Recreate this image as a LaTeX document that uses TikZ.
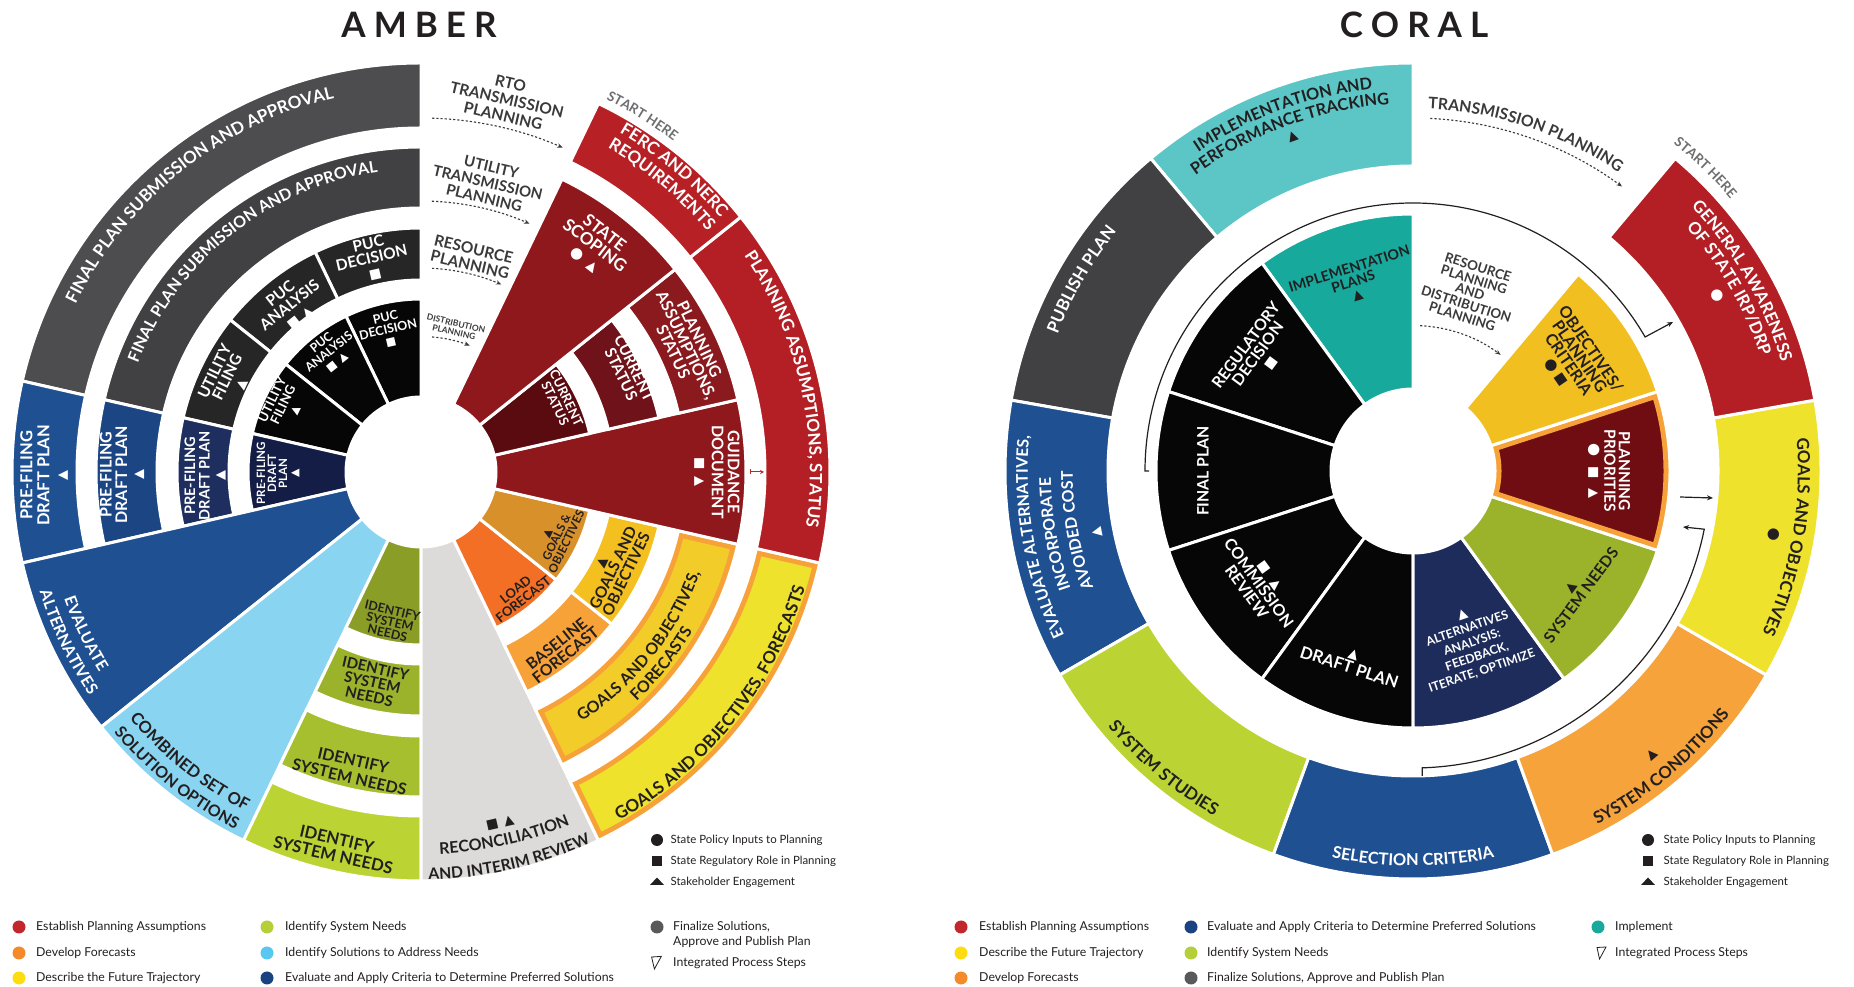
\documentclass[tikz,border=0pt]{standalone}
\usepackage{fontspec}
\setmainfont{Lato}
\newfontfamily\lab{Lato}
\newfontfamily\sym{DejaVu Sans}
\usetikzlibrary{decorations.text,arrows.meta}

\definecolor{ink}{HTML}{231F20}
\definecolor{ink2}{HTML}{3B393A}
\definecolor{hint}{HTML}{6D6E70}
\definecolor{gA}{HTML}{4D4D4F}
\definecolor{gB}{HTML}{414143}
\definecolor{gC}{HTML}{262626}
\definecolor{kD}{HTML}{060606}
\definecolor{pfA}{HTML}{1F5091}
\definecolor{pfB}{HTML}{1C4584}
\definecolor{pfC}{HTML}{1E2F5F}
\definecolor{pfD}{HTML}{141D45}
\definecolor{evB}{HTML}{1F5091}
\definecolor{skyB}{HTML}{89D4F1}
\definecolor{idA}{HTML}{BCD433}
\definecolor{idB}{HTML}{A6BF2F}
\definecolor{idC}{HTML}{9BB32A}
\definecolor{idD}{HTML}{8A9E27}
\definecolor{recG}{HTML}{DCDBD9}
\definecolor{loadO}{HTML}{F26F25}
\definecolor{baseO}{HTML}{F7A239}
\definecolor{ochre}{HTML}{D8902B}
\definecolor{gold}{HTML}{F3C01F}
\definecolor{yelB}{HTML}{F2CD2A}
\definecolor{yelA}{HTML}{EEE22D}
\definecolor{bordO}{HTML}{F7A239}
\definecolor{redG}{HTML}{8F181D}
\definecolor{redA}{HTML}{B31F24}
\definecolor{redB}{HTML}{8B1A1F}
\definecolor{redC}{HTML}{70121A}
\definecolor{redD}{HTML}{5A0B10}
\definecolor{ferc}{HTML}{B72025}
\definecolor{tealL}{HTML}{5CC6C6}
\definecolor{tealD}{HTML}{16A99C}
\definecolor{condO}{HTML}{F7A33C}
\definecolor{navy}{HTML}{1D2C5A}
\definecolor{prio}{HTML}{6F0D12}
\definecolor{objG}{HTML}{F2BF20}
\definecolor{lgRed}{HTML}{C1272D}
\definecolor{lgOr}{HTML}{F58A2A}
\definecolor{lgYel}{HTML}{FEDD10}
\definecolor{lgGrn}{HTML}{B5CF38}
\definecolor{lgSky}{HTML}{58C8F0}
\definecolor{lgNavy}{HTML}{1C4381}
\definecolor{lgGray}{HTML}{58595B}
\definecolor{lgTeal}{HTML}{17A99B}

\newcommand\fsz[2]{\fontsize{#1}{#2}\selectfont}
\newcommand\labf{\lab\bfseries}
\newcommand\symC[1][15]{{\sym\fontsize{#1}{#1}\selectfont ●}}
\newcommand\symS[1][13]{{\sym\fontsize{#1}{#1}\selectfont ■}}
\newcommand\symT[1][13]{{\sym\fontsize{#1}{#1}\selectfont ▲}}

% ring sector: start angle, end angle, inner radius, outer radius, fill
\newcommand\sect[5]{\filldraw[seg,fill=#5] (#1:#3) arc[start angle=#1,end angle=#2,radius=#3] -- (#2:#4) arc[start angle=#2,end angle=#1,radius=#4] -- cycle;}
% ring sector with an inner coloured border
\newcommand\bsect[6]{%
  \fill[#5] (#1:#3) arc[start angle=#1,end angle=#2,radius=#3] -- (#2:#4) arc[start angle=#2,end angle=#1,radius=#4] -- cycle;
  \begin{scope}
    \clip (#1:#3) arc[start angle=#1,end angle=#2,radius=#3] -- (#2:#4) arc[start angle=#2,end angle=#1,radius=#4] -- cycle;
    \draw[#6,line width=13pt] (#1:#3) arc[start angle=#1,end angle=#2,radius=#3] -- (#2:#4) arc[start angle=#2,end angle=#1,radius=#4] -- cycle;
  \end{scope}
  \draw[seg] (#1:#3) arc[start angle=#1,end angle=#2,radius=#3] -- (#2:#4) arc[start angle=#2,end angle=#1,radius=#4] -- cycle;}
% curved label, letters standing outward (clockwise run)
\newcommand\cwtext[7][center]{%
  \pgfmathsetmacro\arcrad{#4-0.36*#5}%
  \path[decorate,decoration={text along path,text align=#1,text color=#6,text={|\labf\fsz{#5}{#5}|#7}}] (#2:\arcrad) arc[start angle=#2,end angle=#3,radius=\arcrad];}
% curved label, letters standing inward (counter-clockwise run)
\newcommand\ccwtext[7][center]{%
  \pgfmathsetmacro\arcrad{#4+0.36*#5}%
  \path[decorate,decoration={text along path,text align=#1,text color=#6,text={|\labf\fsz{#5}{#5}|#7}}] (#2:\arcrad) arc[start angle=#2,end angle=#3,radius=\arcrad];}

\begin{document}
\begin{tikzpicture}[x=1pt,y=1pt,
  seg/.style={draw=white,line width=3pt},
  wl/.style={align=center,inner sep=0pt,text=white},
  dl/.style={align=center,inner sep=0pt,text=ink},
  gl/.style={align=center,inner sep=0pt,text=ink2},
  darrow/.style={draw=ink2,line width=1.1pt,dash pattern=on 2.2pt off 2pt,-{Stealth[length=5.5pt,width=4.5pt]}},
  flowarr/.style={draw=ink,line width=1.2pt,-{Stealth[length=6pt,width=5pt]}},
  title/.style={inner sep=0pt,text=ink,font=\labf\fsz{35}{35}},
  key/.style={anchor=base west,inner sep=0pt,text=ink,font=\lab\fsz{12.3}{14}},
  skey/.style={anchor=base west,inner sep=0pt,text=ink,font=\lab\fsz{11.4}{13}},
  dot/.style={circle,inner sep=0pt,minimum size=13pt},
]
\useasboundingbox (0,0) rectangle (1854,987);
\fill[white] (0,0) rectangle (1854,987);

%================ AMBER =================
\node[title] (tAmber) at (419,962.5) {A\kern8pt M\kern8pt B\kern8pt E\kern8pt R};
\begin{scope}[shift={(421,515)}]
% final plan / PUC / utility filing
\sect{90}{167.143}{344}{409}{gA}
\sect{90}{167.143}{264}{325}{gB}
\sect{90}{115.714}{192}{244}{gC}
\sect{115.714}{141.429}{192}{244}{gC}
\sect{141.429}{167.143}{192}{244}{gC}
\sect{90}{115.714}{75}{173}{kD}
\sect{115.714}{141.429}{75}{173}{kD}
\sect{141.429}{167.143}{75}{173}{kD}
% pre-filing draft plan
\sect{167.143}{192.857}{344}{409}{pfA}
\sect{167.143}{192.857}{264}{325}{pfB}
\sect{167.143}{192.857}{192}{244}{pfC}
\sect{167.143}{192.857}{75}{173}{pfD}
% full-depth wedges
\sect{192.857}{218.571}{75}{409}{evB}
\sect{218.571}{244.286}{75}{409}{skyB}
% identify system needs
\sect{244.286}{270}{344}{409}{idA}
\sect{244.286}{270}{264}{325}{idB}
\sect{244.286}{270}{192}{244}{idC}
\sect{244.286}{270}{75}{173}{idD}
\sect{270}{295.714}{75}{409}{recG}
% forecasts and goals
\sect{295.714}{321.429}{75}{173}{loadO}
\sect{321.429}{347.143}{75}{173}{ochre}
\sect{295.714}{321.429}{192}{244}{baseO}
\sect{321.429}{347.143}{192}{244}{gold}
\bsect{295.714}{347.143}{264}{325}{yelB}{bordO}
\bsect{295.714}{347.143}{344}{409}{yelA}{bordO}
% planning assumptions
\sect{347.143}{372.857}{75}{325}{redG}
\sect{347.143}{398.571}{344}{409}{redA}
\sect{372.857}{398.571}{264}{325}{redB}
\sect{372.857}{398.571}{192}{244}{redC}
\sect{372.857}{398.571}{75}{173}{redD}
\sect{398.571}{424.286}{75}{325}{redG}
\sect{398.571}{424.286}{344}{409}{ferc}

% labels, upper left
\cwtext{167.143}{90}{390}{17}{white}{FINAL PLAN SUBMISSION AND APPROVAL}
\cwtext{167.143}{90}{309}{16}{white}{FINAL PLAN SUBMISSION AND APPROVAL}
\node[wl,rotate=12.86,font=\labf\fsz{15.5}{15}] (aDec3) at (103:219) {PUC\\DECISION\\\symS};
\node[wl,rotate=38.57,font=\labf\fsz{15.5}{15}] (aAna3) at (128.2:212) {PUC\\ANALYSIS\\\symS\hspace{6pt}\symT};
\node[wl,rotate=64.29,font=\labf\fsz{15.5}{14}] (aUtl3) at (154:215) {UTILITY\\FILING\\\symT};
\node[wl,rotate=12.86,font=\labf\fsz{12.5}{12}] (aDec4) at (103:146) {PUC\\DECISION\\\symS[11]};
\node[wl,rotate=38.57,font=\labf\fsz{12.3}{12}] (aAna4) at (127.5:151) {PUC\\ANALYSIS\\\symS[11]\hspace{5pt}\symT[11]};
\node[wl,rotate=64.29,font=\labf\fsz{13}{12}] (aUtl4) at (154:153) {UTILITY\\FILING\\\symT[11]};
\node[wl,rotate=90,font=\labf\fsz{16.5}{17}] (aPre1) at (180.5:377) {PRE-FILING\\DRAFT PLAN\\\symT};
\node[wl,rotate=90,font=\labf\fsz{16}{15.5}] (aPre2) at (180.5:299) {PRE-FILING\\DRAFT PLAN\\\symT};
\node[wl,rotate=90,font=\labf\fsz{14.5}{14.5}] (aPre3) at (181:216) {PRE-FILING\\DRAFT PLAN\\\symT};
\node[wl,rotate=90,font=\labf\fsz{11.5}{11}] (aPre4) at (180.5:143) {PRE-FILING\\DRAFT\\PLAN\\\symT[11]};

% labels, right
\cwtext[left]{63.6}{30}{421}{13.5}{hint}{START HERE}
\cwtext{62.9}{37.1}{399}{17}{white}{FERC AND NERC}
\cwtext{62.9}{37.1}{380}{17}{white}{REQUIREMENTS}
\cwtext{38.571}{-12.857}{395}{17}{white}{PLANNING ASSUMPTIONS, STATUS}
\node[wl,rotate=-37.5,font=\labf\fsz{17}{16}] (aScope) at (52.5:285) {STATE\\SCOPING\\\symC\hspace{8pt}\symT};
\node[wl,rotate=-64.29,font=\labf\fsz{16}{14.5}] (aPA2) at (25.5:294) {PLANNING\\ASSUMPTIONS,\\STATUS};
\node[wl,rotate=-64.29,font=\labf\fsz{15.5}{14.5}] (aCS3) at (26:230) {CURRENT\\STATUS};
\node[wl,rotate=-64.29,font=\labf\fsz{13}{12.5}] (aCS4) at (27:157) {CURRENT\\STATUS};
\node[wl,rotate=-90,font=\labf\fsz{16}{16}] (aGuide) at (0:296) {GUIDANCE\\DOCUMENT\\\symS\hspace{7pt}\symT};
\coordinate (aRedS) at (329,0);
\coordinate (aRedE) at (343,0);
\draw[lgRed,line width=1pt,{Bar[width=5pt]}-{Stealth[length=4pt,width=4pt]}] (aRedS) -- (aRedE);

% labels, lower right
\node[dl,rotate=64.29,font=\labf\fsz{11.7}{11}] (aGO4) at (334.3:151) {\symT[11]\\GOALS \&\\OBJECTIVES};
\node[dl,rotate=38.57,font=\labf\fsz{13}{12.5}] (aLoad) at (308.8:157) {LOAD\\FORECAST};
\node[dl,rotate=38.57,font=\labf\fsz{15.7}{14.5}] (aBase) at (308.3:226) {BASELINE\\FORECAST};
\node[dl,rotate=64.29,font=\labf\fsz{15.5}{14.5}] (aGO3) at (333.5:216) {\symT\\GOALS AND\\OBJECTIVES};
\ccwtext{295.714}{347.143}{291}{16}{ink}{GOALS AND OBJECTIVES,}
\ccwtext{295.714}{347.143}{309}{16}{ink}{FORECASTS}
\ccwtext{295.714}{347.143}{395}{17}{ink}{GOALS AND OBJECTIVES, FORECASTS}
\ccwtext{270}{295.714}{377}{16}{ink}{RECONCILIATION}
\ccwtext{270}{295.714}{402}{15.7}{ink}{AND INTERIM REVIEW}
\node[dl,rotate=12.86,font=\labf\fsz{13}{13}] (aRecS) at (282.7:360) {\symS\hspace{6pt}\symT};

% labels, lower left
\node[dl,rotate=-12.86,font=\labf\fsz{12.5}{11.5}] (aId4) at (258.3:153) {IDENTIFY\\SYSTEM\\NEEDS};
\node[dl,rotate=-12.86,font=\labf\fsz{15}{14.5}] (aId3) at (257:216) {IDENTIFY\\SYSTEM\\NEEDS};
\node[dl,rotate=-12.86,font=\labf\fsz{16}{17}] (aId2) at (256.8:305) {IDENTIFY\\SYSTEM NEEDS};
\node[dl,rotate=-12.86,font=\labf\fsz{16.7}{16.3}] (aId1) at (257.1:385) {IDENTIFY\\SYSTEM NEEDS};
\ccwtext{218.571}{244.286}{376}{16.5}{ink}{COMBINED SET OF}
\ccwtext{218.571}{244.286}{397}{16}{ink}{SOLUTION OPTIONS}
\ccwtext{192.857}{218.571}{373}{16}{white}{EVALUATE}
\ccwtext{192.857}{218.571}{394}{16}{white}{ALTERNATIVES}

% planning tracks in the open gap
\node[gl,rotate=-13,font=\labf\fsz{15.5}{16.5}] (aRTO) at (77:382) {RTO\\TRANSMISSION\\PLANNING};
\node[gl,rotate=-13,font=\labf\fsz{15}{16}] (aUTP) at (77:297) {UTILITY\\TRANSMISSION\\PLANNING};
\node[gl,rotate=-13.3,font=\labf\fsz{15.5}{16}] (aRSP) at (76.7:221) {RESOURCE\\PLANNING};
\node[gl,rotate=-13.3,font=\labf\fsz{8.5}{9}] (aDSP) at (76.7:148) {DISTRIBUTION\\PLANNING};
\coordinate (aRTOa) at (88.2:354);
\coordinate (aUTPa) at (87.7:271);
\coordinate (aRSPa) at (86.9:204);
\coordinate (aDSPa) at (85.3:135.5);
\draw[darrow] (aRTOa) arc[start angle=88.2,end angle=66.4,radius=354];
\draw[darrow] (aUTPa) arc[start angle=87.7,end angle=66.4,radius=271];
\draw[darrow] (aRSPa) arc[start angle=86.9,end angle=66.8,radius=204];
\draw[darrow] (aDSPa) arc[start angle=85.3,end angle=68.9,radius=135.5];
\end{scope}

%================ CORAL =================
\node[title] (tCoral) at (1414,962.5) {C\kern8pt O\kern8pt R\kern8pt A\kern8pt L};
\begin{scope}[shift={(1413,516)}]
% outer ring
\sect{90}{130}{305}{408}{tealL}
\sect{130}{170}{305}{408}{gB}
\sect{170}{210}{305}{408}{evB}
\sect{210}{250}{305}{408}{idA}
\sect{250}{290}{305}{408}{evB}
\sect{290}{330}{305}{408}{condO}
\sect{330}{370}{305}{408}{yelA}
\sect{10}{50}{305}{408}{redA}
% inner wedges
\sect{90}{126}{82}{257}{tealD}
\sect{126}{162}{82}{257}{kD}
\sect{162}{198}{82}{257}{kD}
\sect{198}{234}{82}{257}{kD}
\sect{234}{270}{82}{257}{kD}
\sect{270}{306}{82}{257}{navy}
\sect{306}{342}{82}{257}{idC}
\bsect{342}{378}{82}{257}{prio}{bordO}
\sect{18}{50}{82}{257}{objG}

% process loop
\coordinate (lpA) at (180:268);
\path (lpA) ++(4,0) coordinate (lpAt);
\coordinate (lpB) at (260,149);
\draw[flowarr] (lpAt) -- (lpA) arc[start angle=180,end angle=30,radius=268] -- (lpB);
\coordinate (lqA) at (-88.2:297);
\path (lqA) ++(0,-8) coordinate (lqAt);
\coordinate (lqB) at (270,-56);
\draw[flowarr] (lqAt) -- (lqA) arc[start angle=-88.2,end angle=-11.3,radius=297] -- (lqB);
\coordinate (lrA) at (267,-26);
\coordinate (lrB) at (300,-27);
\draw[flowarr] (lrA) -- (lrB);

% outer ring labels
\cwtext{130}{90}{390}{16.3}{ink}{IMPLEMENTATION AND}
\cwtext{130}{90}{373}{16.3}{ink}{PERFORMANCE TRACKING}
\node[dl,rotate=19.8,font=\fsz{13}{13}] (cIPTs) at (109.8:355) {\symT};
\cwtext{170}{130}{387}{17}{white}{PUBLISH PLAN}
\cwtext{210}{170}{391}{16}{white}{EVALUATE ALTERNATIVES,}
\cwtext{210}{170}{368}{16}{white}{INCORPORATE}
\cwtext{210}{170}{346}{16}{white}{AVOIDED COST}
\node[wl,rotate=101,font=\fsz{13}{13}] (cEvS) at (191:322) {\symT};
\ccwtext{210}{250}{392}{17}{ink}{SYSTEM STUDIES}
\ccwtext{250}{290}{389}{16.4}{white}{SELECTION CRITERIA}
\ccwtext{290}{330}{393}{16.7}{ink}{SYSTEM CONDITIONS}
\node[dl,rotate=40,font=\fsz{13}{13}] (cSCs) at (310:371) {\symT};
\cwtext{10}{-30}{391}{16.8}{ink}{GOALS AND OBJECTIVES}
\node[dl,font=\fsz{15}{15}] (cGOs) at (-10:366) {\symC};
\cwtext{50}{10}{390}{16.8}{white}{GENERAL AWARENESS}
\cwtext{50}{10}{372}{16.8}{white}{OF STATE IRP/DRP}
\node[wl,font=\fsz{15}{15}] (cGAs) at (30:351) {\symC};
\cwtext[left]{51.5}{20}{423}{13.5}{hint}{START HERE}
\cwtext[left]{87.6}{45}{368}{15.8}{ink2}{TRANSMISSION PLANNING}

% inner wedge labels
\node[dl,rotate=17.5,font=\labf\fsz{14.2}{13.5}] (cIP) at (107.5:198) {IMPLEMENTATION\\PLANS\\\symT};
\node[wl,rotate=53.5,font=\labf\fsz{15.9}{14.5}] (cRD) at (143:194) {REGULATORY\\DECISION\\\symS};
\node[wl,rotate=90,font=\labf\fsz{15.8}{15}] (cFP) at (180:210) {FINAL PLAN};
\node[wl,rotate=-54,font=\labf\fsz{16}{15}] (cCR) at (216:192) {\symS\hspace{9pt}\symT\\COMMISSION\\REVIEW};
\node[wl,rotate=-18,font=\labf\fsz{16.7}{16}] (cDP) at (252:200) {\symT\\DRAFT PLAN};
\node[wl,rotate=19,font=\labf\fsz{12.2}{15}] (cAA) at (289:182) {\symT\\ALTERNATIVES\\ANALYSIS:\\FEEDBACK,\\ITERATE, OPTIMIZE};
\node[dl,rotate=53.5,font=\labf\fsz{15.6}{15}] (cSN) at (323.5:203) {\symT\\SYSTEM NEEDS};
\node[wl,rotate=-90,font=\labf\fsz{15.4}{14.5}] (cPP) at (0:196) {PLANNING\\PRIORITIES\\\symC\hspace{10pt}\symS\hspace{10pt}\symT};
\node[dl,rotate=-55.5,font=\labf\fsz{16}{13.5}] (cOC) at (34.5:195) {OBJECTIVES/\\PLANNING\\CRITERIA\\\symC\hspace{4pt}\symS};
\node[gl,rotate=-17.7,font=\labf\fsz{13.3}{13}] (cRDP) at (72.3:188) {RESOURCE\\PLANNING\\AND\\DISTRIBUTION\\PLANNING};
\coordinate (cTPa) at (87.2:353);
\coordinate (cRDPa) at (87.2:145.5);
\draw[darrow] (cTPa) arc[start angle=87.2,end angle=53.7,radius=353];
\draw[darrow] (cRDPa) arc[start angle=87.2,end angle=53,radius=145.5];
\end{scope}

%================ KEYS =================
% state role keys
\node[circle,fill=ink,inner sep=0pt,minimum size=12pt] (kAc) at (657,147) {};
\node[skey] (kAct) at (670.5,143) {State Policy Inputs to Planning};
\node[fill=ink,inner sep=0pt,minimum size=9.5pt] (kAs) at (657,126) {};
\node[skey] (kAst) at (670.5,122) {State Regulatory Role in Planning};
\fill[ink] (650,102) -- (664,102) -- (657,109.5) -- cycle;
\node[skey] (kAtt) at (670.5,101) {Stakeholder Engagement};

\node[circle,fill=ink,inner sep=0pt,minimum size=12pt] (kCc) at (1648,147) {};
\node[skey] (kCct) at (1663.5,143) {State Policy Inputs to Planning};
\node[fill=ink,inner sep=0pt,minimum size=9.5pt] (kCs) at (1648,126) {};
\node[skey] (kCst) at (1663.5,122) {State Regulatory Role in Planning};
\fill[ink] (1641,102) -- (1655,102) -- (1648,109.5) -- cycle;
\node[skey] (kCtt) at (1663.5,101) {Stakeholder Engagement};

% colour keys, left
\node[dot,fill=lgRed] (kL1) at (19,60) {};
\node[key] (kL1t) at (36,56) {Establish Planning Assumptions};
\node[dot,fill=lgOr] (kL2) at (19,34) {};
\node[key] (kL2t) at (36,30) {Develop Forecasts};
\node[dot,fill=lgYel] (kL3) at (19,9) {};
\node[key] (kL3t) at (36,5) {Describe the Future Trajectory};
\node[dot,fill=lgGrn] (kL4) at (267,60) {};
\node[key] (kL4t) at (285,56) {Identify System Needs};
\node[dot,fill=lgSky] (kL5) at (267,34) {};
\node[key] (kL5t) at (285,30) {Identify Solutions to Address Needs};
\node[dot,fill=lgNavy] (kL6) at (267,9) {};
\node[key] (kL6t) at (285,5) {Evaluate and Apply Criteria to Determine Preferred Solutions};
\node[dot,fill=lgGray] (kL7) at (657,60) {};
\node[key] (kL7t) at (673,56) {Finalize Solutions,};
\node[key] (kL7u) at (673,41) {Approve and Publish Plan};
\draw[ink,line width=0.8pt] (651.6,30) -- (661.3,30.6) -- (654.4,18) -- cycle;
\node[key] (kL8t) at (673,20) {Integrated Process Steps};

% colour keys, right
\node[dot,fill=lgRed] (kR1) at (961,60) {};
\node[key] (kR1t) at (979,56) {Establish Planning Assumptions};
\node[dot,fill=lgYel] (kR2) at (961,34) {};
\node[key] (kR2t) at (979,30) {Describe the Future Trajectory};
\node[dot,fill=lgOr] (kR3) at (961,9) {};
\node[key] (kR3t) at (979,5) {Develop Forecasts};
\node[dot,fill=lgNavy] (kR4) at (1191,60) {};
\node[key] (kR4t) at (1207,56) {Evaluate and Apply Criteria to Determine Preferred Solutions};
\node[dot,fill=lgGrn] (kR5) at (1191,34) {};
\node[key] (kR5t) at (1207,30) {Identify System Needs};
\node[dot,fill=lgGray] (kR6) at (1191,9) {};
\node[key] (kR6t) at (1207,5) {Finalize Solutions, Approve and Publish Plan};
\node[dot,fill=lgTeal] (kR7) at (1598,60) {};
\node[key] (kR7t) at (1615,56) {Implement};
\draw[ink,line width=0.8pt] (1597,39.5) -- (1606,40) -- (1599.5,28) -- cycle;
\node[key] (kR8t) at (1615,30) {Integrated Process Steps};
\end{tikzpicture}
\end{document}
